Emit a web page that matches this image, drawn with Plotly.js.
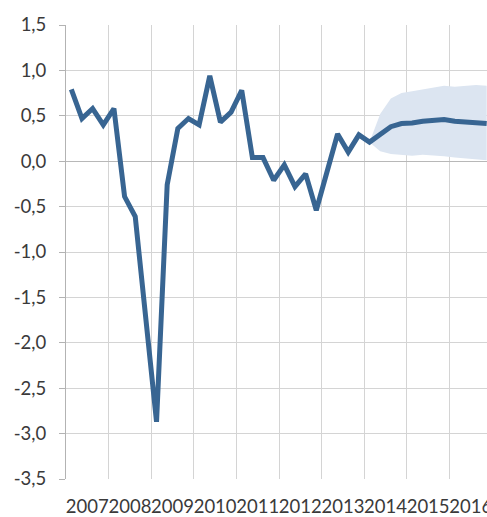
<!DOCTYPE html>
<html>
<head>
<meta charset="utf-8">
<script src="https://cdn.plot.ly/plotly-3.0.1.min.js"></script>
<style>
html, body { margin: 0; padding: 0; overflow: hidden; background: #fff; }
#chart { width: 492px; height: 517px; }
</style>
</head>
<body>
<div id="chart"></div>
<script>
// Quarterly values, 2007Q1 .. 2016Q4
const yearLabels = ["2007","2008","2009","2010","2011","2012","2013","2014","2015","2016"];
const gdpGrowth = [0.79, 0.47, 0.58, 0.40, 0.58, -0.39, -0.61, -1.75,
                   -2.87, -0.26, 0.36, 0.47, 0.40, 0.94, 0.43, 0.54,
                   0.78, 0.04, 0.04, -0.21, -0.04, -0.28, -0.14, -0.54,
                   -0.12, 0.30, 0.10, 0.29, 0.21, 0.30, 0.38, 0.415,
                   0.42, 0.44, 0.45, 0.46, 0.44, 0.43, 0.43, 0.415];
// Forecast band, starting at quarter index 28 (2014Q1)
const bandStart = 28;
const bandUpper = [0.21, 0.52, 0.69, 0.75, 0.77, 0.79, 0.81, 0.83, 0.82, 0.83, 0.84, 0.83];
const bandLower = [0.21, 0.11, 0.08, 0.07, 0.06, 0.07, 0.065, 0.055, 0.04, 0.03, 0.02, 0.01];
const yTickVals = [1.5, 1.0, 0.5, 0.0, -0.5, -1.0, -1.5, -2.0, -2.5, -3.0, -3.5];
const yTickText = ["1,5","1,0","0,5","0,0","-0,5","-1,0","-1,5","-2,0","-2,5","-3,0","-3,5"];

const xIdx = gdpGrowth.map((_, i) => i);
const bandX = bandUpper.map((_, i) => bandStart + i);
const yearTickPos = yearLabels.map((_, i) => i * 4 + 1.5);

const traces = [
  { x: bandX, y: bandLower, type: 'scatter', mode: 'lines', line: {width: 0, color: 'rgba(0,0,0,0)'},
    hoverinfo: 'skip', showlegend: false },
  { x: bandX, y: bandUpper, type: 'scatter', mode: 'lines', line: {width: 0, color: 'rgba(0,0,0,0)'},
    fill: 'tonexty', fillcolor: '#dce5f1', hoverinfo: 'skip', showlegend: false },
  { x: xIdx, y: gdpGrowth, type: 'scatter', mode: 'lines',
    line: {color: '#386592', width: 5}, showlegend: false }
];

const layout = {
  width: 492, height: 517,
  margin: {l: 66, r: 0, t: 25, b: 38},
  paper_bgcolor: '#ffffff', plot_bgcolor: '#ffffff',
  font: {family: 'Lato, "Open Sans", sans-serif', size: 18.5, color: '#3a3a3a'},
  showlegend: false,
  xaxis: {
    range: [-0.5, 39.5],
    tickmode: 'array', tickvals: yearTickPos, ticktext: yearLabels,
    tickangle: 0, ticklabeloverflow: 'allow',
    showgrid: false, zeroline: false, showline: false, ticks: '',
    ticklabelstandoff: 14,
    minor: {tick0: -0.5, dtick: 4, showgrid: true, gridcolor: '#d4d4d4', gridwidth: 1, ticks: ''}
  },
  yaxis: {
    range: [-3.5, 1.5],
    tickmode: 'array', tickvals: yTickVals, ticktext: yTickText,
    showgrid: true, gridcolor: '#d4d4d4', gridwidth: 1,
    zeroline: true, zerolinecolor: '#b8b8b8', zerolinewidth: 1,
    showline: true, linecolor: '#b3b3b3', linewidth: 1,
    ticks: 'outside', ticklen: 6, tickcolor: '#b3b3b3', tickwidth: 1,
    ticklabelstandoff: 9
  }
};

Plotly.newPlot('chart', traces, layout, {displayModeBar: false, staticPlot: true});
</script>
</body>
</html>
